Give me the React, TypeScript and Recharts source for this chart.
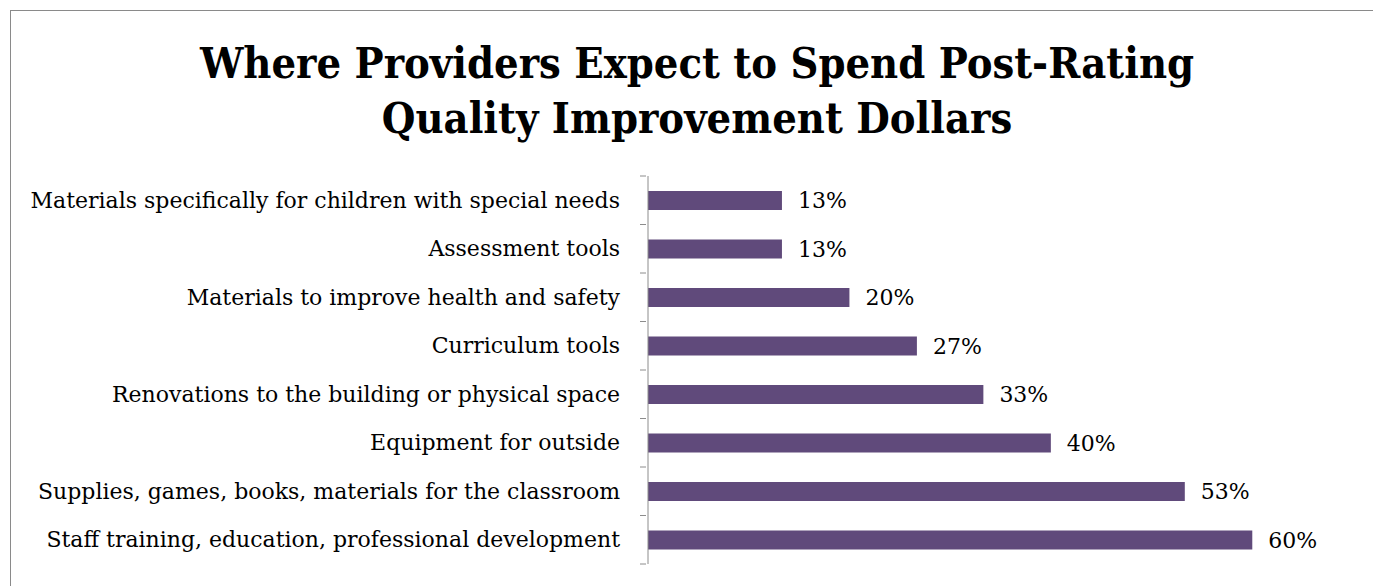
import { Bar, BarChart, LabelList, XAxis, YAxis } from "recharts";

const categories = [
  "Materials specifically for children with special needs",
  "Assessment tools",
  "Materials to improve health and safety ",
  "Curriculum tools",
  "Renovations to the building or physical space",
  "Equipment for outside",
  "Supplies, games, books, materials for the classroom",
  "Staff training, education, professional development",
];

const shares = [13.3, 13.3, 20, 26.7, 33.3, 40, 53.3, 60];

const data = categories.map((name, i) => ({ name, value: shares[i] }));

const FONT = "'DejaVu Serif', serif";
const TITLE_FONT = "'DejaVu Serif Condensed', 'DejaVu Serif', serif";
const W = 1373;
const H = 586;
const PLOT_TOP = 176;
const PLOT_BOTTOM = 22;
const band = (H - PLOT_TOP - PLOT_BOTTOM) / categories.length;

function CategoryTick(props: any) {
  const { x, y, payload, index } = props;
  const axisX = x + 6;
  return (
    <g>
      <text
        x={axisX - 26}
        y={y}
        dy="0.35em"
        textAnchor="end"
        fontSize={22}
        fontFamily={FONT}
        fill="#000"
      >
        {payload.value}
      </text>
      <line x1={axisX - 6} x2={axisX} y1={y - band / 2} y2={y - band / 2} stroke="#8c8c8c" />
      {index === categories.length - 1 && (
        <line x1={axisX - 6} x2={axisX} y1={y + band / 2} y2={y + band / 2} stroke="#8c8c8c" />
      )}
    </g>
  );
}

export default function App() {
  return (
    <div style={{ position: "relative", width: W, height: H, overflow: "hidden", background: "#fff" }}>
      <style>{"html,body{margin:0;padding:0;overflow:hidden}"}</style>
      {/* frame runs off the right and bottom edges in the original */}
      <div
        style={{
          position: "absolute",
          left: 10,
          top: 10,
          width: 1400,
          height: 600,
          borderTop: "1.5px solid #8a8a8a",
          borderLeft: "1.5px solid #8a8a8a",
        }}
      />
      <div
        style={{
          position: "absolute",
          left: 0,
          top: 36,
          width: W - 21,
          paddingLeft: 21,
          textAlign: "center",
          fontFamily: TITLE_FONT,
          fontWeight: "bold",
          fontSize: 43,
          lineHeight: "55px",
          color: "#000",
        }}
      >
        Where Providers Expect to Spend Post-Rating
        <br />
        Quality Improvement Dollars
      </div>
      <div style={{ position: "absolute", left: 0, top: 0 }}>
        <BarChart
          width={W}
          height={H}
          data={data}
          layout="vertical"
          margin={{ top: PLOT_TOP, right: 20, bottom: PLOT_BOTTOM, left: 0 }}
          barCategoryGap={0}
        >
          <XAxis type="number" domain={[0, 70]} hide />
          <YAxis
            type="category"
            dataKey="name"
            width={648}
            axisLine={{ stroke: "#8c8c8c" }}
            tickLine={false}
            tick={<CategoryTick />}
            interval={0}
          />
          <Bar dataKey="value" fill="#604a7b" barSize={19} isAnimationActive={false}>
            <LabelList
              dataKey="value"
              position="right"
              offset={16}
              formatter={(v: any) => `${Math.round(Number(v))}%`}
              style={{ fontSize: 22, fontFamily: FONT, fill: "#000" }}
            />
          </Bar>
        </BarChart>
      </div>
    </div>
  );
}
